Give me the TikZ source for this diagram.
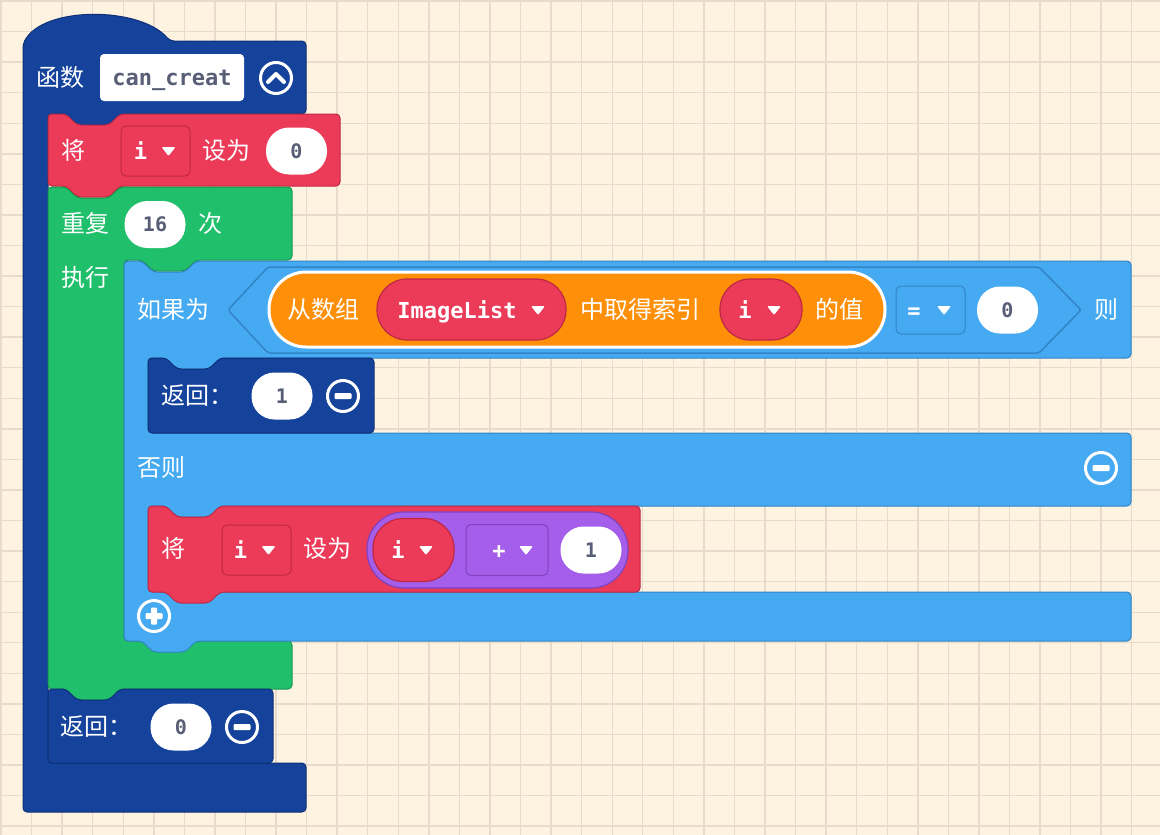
\documentclass[tikz,border=0pt]{standalone}
\usepackage{fontspec}
\newfontfamily\cjk{Noto Sans CJK SC}
\newfontfamily\code{DejaVu Sans Mono}
\usetikzlibrary{positioning, calc}
\definecolor{canvas}{RGB}{254, 243, 225}
\definecolor{gridtan}{RGB}{233, 218, 205}
\definecolor{fnblue}{RGB}{21, 67, 156}
\definecolor{fnedge}{RGB}{14, 48, 118}
\definecolor{varred}{RGB}{236, 58, 89}
\definecolor{varedge}{RGB}{190, 40, 68}
\definecolor{loopgreen}{RGB}{32, 191, 107}
\definecolor{loopedge}{RGB}{24, 150, 84}
\definecolor{logicblue}{RGB}{69, 170, 242}
\definecolor{logicedge}{RGB}{50, 132, 196}
\definecolor{arrayorange}{RGB}{254, 143, 8}
\definecolor{mathpurple}{RGB}{165, 94, 234}
\definecolor{mathedge}{RGB}{128, 66, 190}
\definecolor{fieldtext}{RGB}{87, 94, 117}
\tikzset{
    blk/.style={line width=1pt, rounded corners=4pt},
    fnblk/.style={blk, fill=fnblue, draw=fnedge},
    varblk/.style={blk, fill=varred, draw=varedge},
    loopblk/.style={blk, fill=loopgreen, draw=loopedge},
    logicblk/.style={blk, fill=logicblue, draw=logicedge},
    lbl/.style={anchor=west, text=white, inner sep=0pt, text height=17.3pt, text depth=0pt, font=\cjk\fontsize{24}{24}\selectfont},
    codew/.style={text=white, inner sep=0pt, text height=16pt, text depth=0pt, font=\code\bfseries\fontsize{22}{22}\selectfont},
    valfield/.style={fill=white, rounded corners=23pt, minimum width=61pt, minimum height=47pt, inner sep=0pt, text=fieldtext, text height=14.6pt, text depth=0pt, font=\code\bfseries\fontsize{20}{20}\selectfont},
    namefield/.style={fill=white, rounded corners=4pt, minimum width=144pt, minimum height=47pt, inner sep=0pt, text=fieldtext, text height=16pt, text depth=0pt, font=\code\bfseries\fontsize{22}{22}\selectfont},
    ddfield/.style={rounded corners=5pt, minimum width=69pt, minimum height=50pt, inner sep=0pt, line width=1pt},
    pill/.style={fill=varred, draw=varedge, line width=1.2pt, rounded corners=30pt, minimum height=61pt, inner sep=0pt},
    arraypill/.style={fill=arrayorange, draw=white, line width=3pt, rounded corners=37pt, minimum width=616pt, minimum height=75pt, inner sep=0pt},
    mathpill/.style={fill=mathpurple, draw=mathedge, line width=1.2pt, rounded corners=37pt, minimum width=261pt, minimum height=76pt, inner sep=0pt},
    icon/.style={circle, draw=white, line width=3pt, minimum size=31pt, inner sep=0pt},
    bar/.style={fill=white, minimum width=17pt, minimum height=6pt, inner sep=0pt, rounded corners=1pt},
    gridline/.style={draw=gridtan, line width=1.4pt}
}
\newcommand\ddtri[1]{\fill[white, rounded corners=1.2pt] #1 ++(-7,-4) -- ++(14,0) -- ++(-7,9) -- cycle;}

\begin{document}
\begin{tikzpicture}[x=1pt, y=-1pt]
\useasboundingbox (0,0) rectangle (1160,835);
\fill[canvas] (0,0) rectangle (1160,835);
\foreach \k in {0,...,37} \draw[gridline] (1+30.56*\k,0) -- (1+30.56*\k,835);
\foreach \k in {0,...,27} \draw[gridline] (0,1+30.56*\k) -- (1160,1+30.56*\k);

% function body
\draw[fnblk] (23,44) .. controls (43,6) and (140,6) .. (170,41) -- (306,41) -- (306,114)
    -- (120,114) -- ++(-11,11) -- ++(-32,0) -- ++(-11,-11) -- (48,114)
    -- (48,763) -- (306,763) -- (306,812) -- (23,812) -- cycle;
\node[lbl] (fnkw) at (36,78) {函数};
\node[namefield] (fnname) at (172,77.5) {can\_creat};
\node[icon] (fold) at (276,78) {};
\draw[white, line width=4pt, line cap=round, line join=round]
    ([shift={(-8pt,-4pt)}]fold.center) -- ([yshift=4pt]fold.center) -- ([shift={(8pt,-4pt)}]fold.center);

% set i to 0
\draw[varblk] (48,114) -- ++(18,0) -- ++(11,11) -- ++(32,0) -- ++(11,-11) -- (340,114) -- (340,186)
    -- (120,186) -- ++(-11,11) -- ++(-32,0) -- ++(-11,-11) -- (48,186) -- cycle;
\node[lbl] (setkw1) at (61,151) {将};
\node[ddfield, fill=varred, draw=varedge] (setvar1) at (155.5,151) {};
\node[codew] (setvarname1) at ([xshift=-15pt]setvar1.center) {i};
\ddtri{([xshift=13pt]setvar1.center)}
\node[lbl] (setto1) at (202,151) {设为};
\node[valfield] (initval) at (296.5,151) {0};

% repeat loop
\draw[loopblk] (48,187) -- ++(18,0) -- ++(11,11) -- ++(32,0) -- ++(11,-11) -- (292,187) -- (292,260)
    -- (196,260) -- ++(-11,11) -- ++(-32,0) -- ++(-11,-11) -- (124,260)
    -- (124,641) -- (292,641) -- (292,689)
    -- (120,689) -- ++(-11,11) -- ++(-32,0) -- ++(-11,-11) -- (48,689) -- cycle;
\node[lbl] (repkw) at (61,224) {重复};
\node[valfield] (times) at (155,224.5) {16};
\node[lbl] (timeskw) at (198,224) {次};
\node[lbl] (dokw) at (61,278) {执行};

% if / else
\draw[logicblk] (124,261) -- ++(18,0) -- ++(11,11) -- ++(32,0) -- ++(11,-11) -- (1131,261) -- (1131,358)
    -- (220,358) -- ++(-11,11) -- ++(-32,0) -- ++(-11,-11) -- (148,358)
    -- (148,433) -- (1131,433) -- (1131,506)
    -- (220,506) -- ++(-11,11) -- ++(-32,0) -- ++(-11,-11) -- (148,506)
    -- (148,592) -- (1131,592) -- (1131,641)
    -- (196,641) -- ++(-11,11) -- ++(-32,0) -- ++(-11,-11) -- (124,641) -- cycle;
\node[lbl] (ifkw) at (137,310) {如果为};
\draw[logicblk, line width=1.5pt, rounded corners=2pt] (228,310) -- (268,267) -- (1039,267) -- (1081,310) -- (1039,353) -- (268,353) -- cycle;
\node[arraypill] (getitem) at (577,309.5) {};
\node[lbl] (fromkw) at (287,310) {从数组};
\node[pill, minimum width=189pt] (listvar) at (471.5,309.5) {};
\node[codew] (listname) at (457,310) {ImageList};
\ddtri{(538,310)}
\node[lbl] (idxkw) at (580,310) {中取得索引};
\node[pill, minimum width=82pt] (idxvar) at (761,309.5) {};
\node[codew] (idxname) at (745,310) {i};
\ddtri{(774,310)}
\node[lbl] (valkw) at (815,310) {的值};
\node[ddfield, fill=logicblue, draw=logicedge, minimum height=48pt] (cmpop) at (930.5,310) {};
\node[codew] (cmpsym) at (914,310) {=};
\ddtri{(944,310)}
\node[valfield] (cmpval) at (1007.5,310) {0};
\node[lbl] (thenkw) at (1094,310) {则};

% return 1
\draw[fnblk] (148,358) -- ++(18,0) -- ++(11,11) -- ++(32,0) -- ++(11,-11) -- (374,358) -- (374,433) -- (148,433) -- cycle;
\node[lbl] (retkw1) at (161,396) {返回：};
\node[valfield] (retval1) at (282,396) {1};
\node[icon] (rmret1) at (343,396) {};
\node[bar] (rmbar1) at (rmret1) {};

\node[lbl] (elsekw) at (137,468) {否则};
\node[icon] (rmelse) at (1101,468) {};
\node[bar] (rmbar2) at (rmelse) {};

% set i to i + 1
\draw[varblk] (148,506) -- ++(18,0) -- ++(11,11) -- ++(32,0) -- ++(11,-11) -- (640,506) -- (640,592)
    -- (220,592) -- ++(-11,11) -- ++(-32,0) -- ++(-11,-11) -- (148,592) -- cycle;
\node[lbl] (setkw2) at (161,549) {将};
\node[ddfield, fill=varred, draw=varedge] (setvar2) at (256.5,550) {};
\node[codew] (setvarname2) at ([xshift=-16pt]setvar2.center) {i};
\ddtri{([xshift=12pt]setvar2.center)}
\node[lbl] (setto2) at (303,549) {设为};
\node[mathpill] (addexpr) at (497.5,550) {};
\node[pill, minimum width=81pt, minimum height=63pt] (lhsvar) at (413.5,550) {};
\node[codew] (lhsname) at (398,550) {i};
\ddtri{(426,550)}
\node[ddfield, fill=mathpurple, draw=mathedge, minimum width=82pt, minimum height=51pt] (addop) at (507,550) {};
\node[codew] (addsym) at (499,550) {+};
\ddtri{(526,550)}
\node[valfield] (addval) at (591,550) {1};

\node[icon] (addelse) at (154,616) {};
\node[bar] (plusbar1) at (addelse) {};
\node[bar, rotate=90] (plusbar2) at (addelse) {};

% return 0
\draw[fnblk] (48,689) -- ++(18,0) -- ++(11,11) -- ++(32,0) -- ++(11,-11) -- (273,689) -- (273,763) -- (48,763) -- cycle;
\node[lbl] (retkw2) at (60,727) {返回：};
\node[valfield] (retval2) at (181,727) {0};
\node[icon] (rmret2) at (242,727) {};
\node[bar] (rmbar3) at (rmret2) {};
\end{tikzpicture}
\end{document}
